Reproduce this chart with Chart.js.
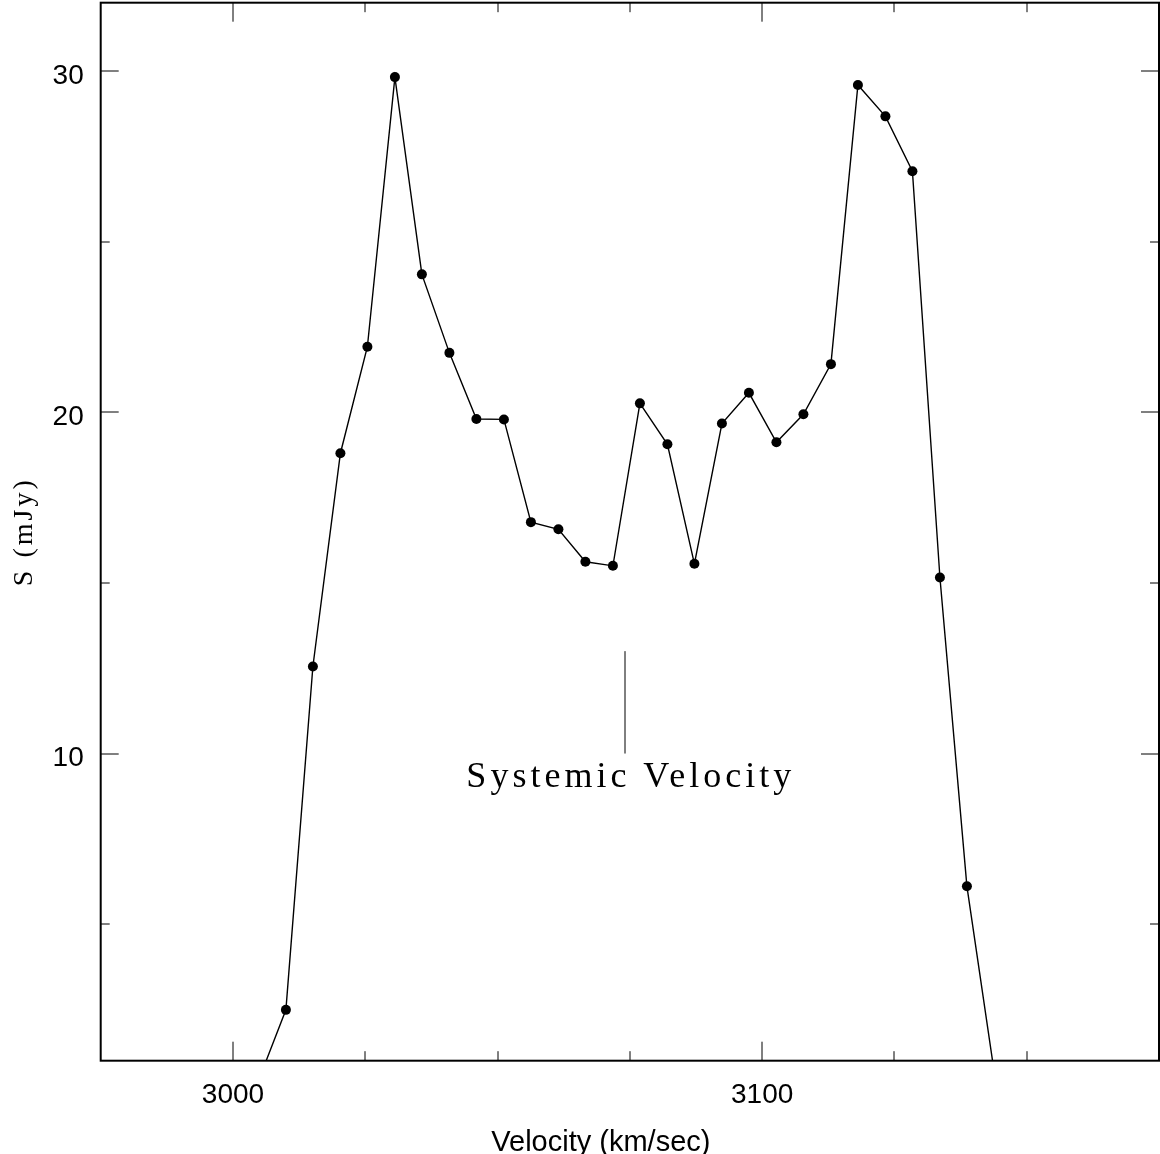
<!DOCTYPE html>
<html>
<head>
<meta charset="utf-8">
<script src="https://cdn.jsdelivr.net/npm/chart.js@4.4.0/dist/chart.umd.min.js"></script>
<style>
  html, body { margin: 0; padding: 0; background: #fff; }
  #wrap { width: 1160px; height: 1154px; }
</style>
</head>
<body>
<div id="wrap"><canvas id="profile" width="1160" height="1154"></canvas></div>
<script>
/* HI line profile: flux density per velocity channel */
const velocity = [3004.8, 3010.0, 3015.1, 3020.3, 3025.4, 3030.6, 3035.7, 3040.9,
                  3046.0, 3051.2, 3056.3, 3061.5, 3066.6, 3071.8, 3076.9, 3082.1,
                  3087.2, 3092.4, 3097.5, 3102.7, 3107.8, 3113.0, 3118.1, 3123.3,
                  3128.4, 3133.6, 3138.7, 3143.9];
const flux = [0.41, 2.49, 12.55, 18.80, 21.92, 29.82, 24.04, 21.74,
              19.80, 19.79, 16.78, 16.57, 15.62, 15.50, 20.26, 19.06,
              15.56, 19.67, 20.57, 19.12, 19.94, 21.41, 29.59, 28.67,
              27.06, 15.16, 6.11, 0.62];

const xLabelTicks = [3000, 3100];
const xMinorTicks = [3025, 3050, 3075, 3125, 3150];
const yLabelTicks = [10, 20, 30];
const yMinorTicks = [5, 15, 25];

// systemic velocity marker: velocity, flux range of the bar
const systemicV = 3074;
const systemicBar = [10, 13];
const systemicText = 'Systemic Velocity';

const SERIF = '"Liberation Serif", "DejaVu Serif", serif';
const SANS = '"Liberation Sans", Arial, sans-serif';

// box, inward ticks, axis titles and the systemic marker
const decorations = {
  id: 'decorations',
  afterDraw(chart) {
    const { ctx, chartArea: a, scales: { x, y } } = chart;
    ctx.save();

    ctx.strokeStyle = '#000';
    ctx.lineWidth = 1;
    ctx.beginPath();
    const xTick = (v, len) => {
      const px = Math.round(x.getPixelForValue(v));
      ctx.moveTo(px, a.bottom); ctx.lineTo(px, a.bottom - len);
      ctx.moveTo(px, a.top); ctx.lineTo(px, a.top + len);
    };
    const yTick = (v, len) => {
      const py = Math.round(y.getPixelForValue(v));
      ctx.moveTo(a.left, py); ctx.lineTo(a.left + len, py);
      ctx.moveTo(a.right, py); ctx.lineTo(a.right - len, py);
    };
    xLabelTicks.forEach(v => xTick(v, 19));
    xMinorTicks.forEach(v => xTick(v, 9.5));
    yLabelTicks.forEach(v => yTick(v, 18));
    yMinorTicks.forEach(v => yTick(v, 9));
    ctx.stroke();

    ctx.lineWidth = 2;
    ctx.strokeRect(a.left, a.top, a.right - a.left, a.bottom - a.top);

    // systemic velocity bar and label
    const sx = Math.round(x.getPixelForValue(systemicV));
    ctx.lineWidth = 1;
    ctx.beginPath();
    ctx.moveTo(sx, y.getPixelForValue(systemicBar[0]));
    ctx.lineTo(sx, y.getPixelForValue(systemicBar[1]));
    ctx.stroke();

    ctx.fillStyle = '#000';
    ctx.font = '36px ' + SERIF;
    ctx.letterSpacing = '4px';
    ctx.textAlign = 'center';
    ctx.textBaseline = 'alphabetic';
    ctx.fillText(systemicText, x.getPixelForValue(systemicV + 1) + 1, y.getPixelForValue(systemicBar[0]) + 33);

    // y title
    ctx.save();
    ctx.translate(32, (a.top + a.bottom) / 2);
    ctx.rotate(-Math.PI / 2);
    ctx.font = '28px ' + SERIF;
    ctx.letterSpacing = '3px';
    ctx.fillText('S (mJy)', 0, 0);
    ctx.restore();

    // x title
    ctx.letterSpacing = '0px';
    ctx.font = '29px ' + SANS;
    ctx.fillText('Velocity (km/sec)', (a.left + a.right) / 2 - 29, chart.height - 3);

    ctx.restore();
  }
};

new Chart(document.getElementById('profile'), {
  type: 'line',
  data: {
    datasets: [{
      data: velocity.map((v, i) => ({ x: v, y: flux[i] })),
      borderColor: '#000',
      borderWidth: 1.4,
      pointRadius: 5,
      pointBorderWidth: 0,
      pointBackgroundColor: '#000',
      tension: 0
    }]
  },
  options: {
    responsive: false,
    animation: false,
    events: [],
    layout: { autoPadding: false, padding: { left: 0, top: 2.7, right: 1, bottom: 0 } },
    plugins: { legend: { display: false }, tooltip: { enabled: false } },
    scales: {
      x: {
        type: 'linear', min: 2975, max: 3175,
        grid: { display: false, drawTicks: false },
        border: { display: false },
        ticks: {
          font: { family: SANS, size: 28 }, color: '#000', padding: 18,
          maxRotation: 0, autoSkip: false, callback: v => String(v)
        },
        afterBuildTicks: s => { s.ticks = xLabelTicks.map(v => ({ value: v })); },
        afterFit: s => { s.height = 93.3; s.paddingLeft = 0; s.paddingRight = 0; }
      },
      y: {
        type: 'linear', min: 1, max: 32,
        grid: { display: false, drawTicks: false },
        border: { display: false },
        ticks: {
          font: { family: SANS, size: 28 }, color: '#000', padding: 17,
          labelOffset: 5, autoSkip: false, callback: v => String(v)
        },
        afterBuildTicks: s => { s.ticks = yLabelTicks.map(v => ({ value: v })); },
        afterFit: s => { s.width = 100.7; s.paddingTop = 0; s.paddingBottom = 0; }
      }
    }
  },
  plugins: [decorations]
});
</script>
</body>
</html>
